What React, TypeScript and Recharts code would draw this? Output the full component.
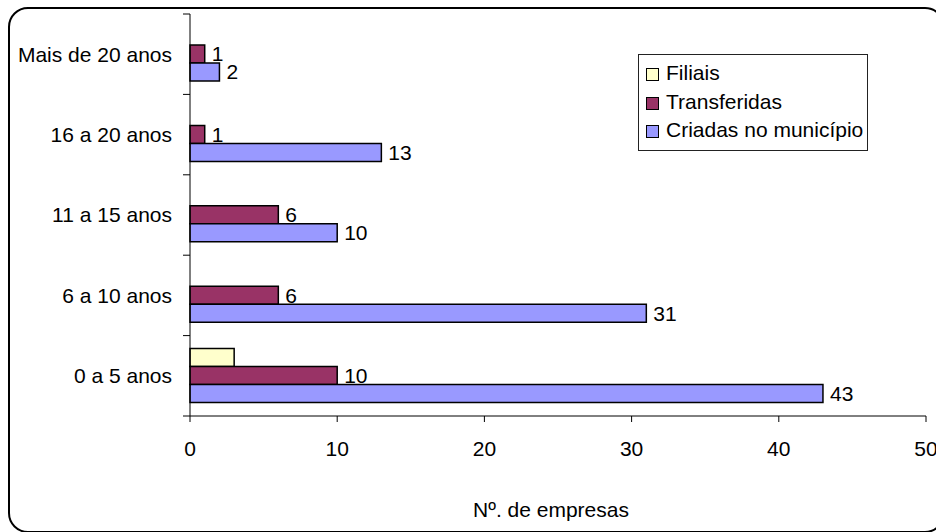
import React from "react";
import { BarChart, Bar, XAxis, YAxis, Legend, LabelList } from "recharts";

const faixas = ["Mais de 20 anos", "16 a 20 anos", "11 a 15 anos", "6 a 10 anos", "0 a 5 anos"];
const series = ["Filiais", "Transferidas", "Criadas no município"];
const filiais = [0, 0, 0, 0, 3];
const transferidas = [1, 1, 6, 6, 10];
const criadas = [2, 13, 10, 31, 43];
const xTicks = [0, 10, 20, 30, 40, 50];

const data = faixas.map((faixa, i) => ({
  faixa,
  filiais: filiais[i],
  transferidas: transferidas[i],
  criadas: criadas[i],
}));

const FONT = "'Liberation Sans', Arial, sans-serif";

const FaixaTick = (props: any) => {
  const { x, y, payload } = props;
  const half = payload.offset || 40.2;
  const axisX = x + 18;
  const last = payload.value === faixas[faixas.length - 1];
  return (
    <g>
      <line x1={axisX - 7} x2={axisX} y1={y - half} y2={y - half} stroke="#000" />
      {last && <line x1={axisX - 7} x2={axisX} y1={y + half} y2={y + half} stroke="#000" />}
      <text x={x} y={y} dy="0.355em" textAnchor="end" fontSize={21} fill="#000" fontFamily={FONT}>
        {payload.value}
      </text>
    </g>
  );
};

const AxisTitle = (props: any) => {
  const vb = props.viewBox || { x: 190, y: 416, width: 736 };
  return (
    <text x={vb.x + vb.width / 2 - 7} y={vb.y + 101} textAnchor="middle" fontSize={21} fill="#000" fontFamily={FONT}>
      Nº. de empresas
    </text>
  );
};

const LegendBox = (props: any) => {
  const items = [...(props.payload || [])].sort(
    (a: any, b: any) => series.indexOf(a.value) - series.indexOf(b.value)
  );
  return (
    <div
      style={{
        width: 230,
        height: 97,
        boxSizing: "border-box",
        border: "1px solid #222",
        background: "#fff",
        paddingTop: 4,
        fontFamily: FONT,
        fontSize: 21,
        color: "#000",
      }}
    >
      {items.map((it: any) => (
        <div key={it.value} style={{ display: "flex", alignItems: "center", height: 28.5, paddingLeft: 7 }}>
          <span
            style={{
              display: "inline-block",
              width: 13,
              height: 13,
              boxSizing: "border-box",
              border: "1.5px solid #000",
              background: it.color,
              marginRight: 7,
              marginTop: 3,
            }}
          />
          <span style={{ whiteSpace: "nowrap" }}>{it.value}</span>
        </div>
      ))}
    </div>
  );
};

export default function App() {
  return (
    <div style={{ position: "absolute", left: 0, top: 0, width: 936, height: 532, overflow: "hidden", background: "#fff" }}>
      <div
        style={{
          position: "absolute",
          left: 8,
          top: 7,
          width: 937,
          height: 526,
          boxSizing: "border-box",
          border: "2px solid #000",
          borderRadius: 20,
        }}
      />
      <div style={{ position: "absolute", left: 0, top: 0 }}>
        <BarChart
          width={936}
          height={532}
          data={data}
          layout="vertical"
          margin={{ top: 14, right: 10, bottom: 76, left: 0 }}
          barCategoryGap={13}
          barGap={0}
        >
          <XAxis
            type="number"
            domain={[0, 50]}
            ticks={xTicks}
            interval={0}
            height={40}
            tickSize={6}
            tickMargin={19}
            axisLine={{ stroke: "#000" }}
            tickLine={{ stroke: "#000" }}
            tick={{ fill: "#000", fontSize: 21, fontFamily: FONT }}
            label={<AxisTitle />}
          />
          <XAxis
            xAxisId="top"
            orientation="top"
            type="number"
            domain={[0, 50]}
            height={0}
            tick={false}
            tickLine={false}
            axisLine={{ stroke: "#000" }}
          />
          <YAxis
            type="category"
            dataKey="faixa"
            width={190}
            tickSize={6}
            tickMargin={12}
            tickLine={false}
            axisLine={{ stroke: "#000" }}
            tick={<FaixaTick />}
          />
          <YAxis
            yAxisId="right"
            orientation="right"
            type="category"
            dataKey="faixa"
            width={0}
            tick={false}
            tickLine={false}
            axisLine={{ stroke: "#000" }}
          />
          <Legend
            layout="vertical"
            align="center"
            verticalAlign="middle"
            wrapperStyle={{ left: 638, top: 54, width: 230, height: 97 }}
            content={<LegendBox />}
          />
          <Bar dataKey="filiais" name={series[0]} fill="#FFFFCC" stroke="#000" strokeWidth={1.5} isAnimationActive={false} />
          <Bar dataKey="transferidas" name={series[1]} fill="#993366" stroke="#000" strokeWidth={1.5} isAnimationActive={false}>
            <LabelList dataKey="transferidas" position="right" offset={7} fill="#000" fontSize={21} fontFamily={FONT} />
          </Bar>
          <Bar dataKey="criadas" name={series[2]} fill="#9999FF" stroke="#000" strokeWidth={1.5} isAnimationActive={false}>
            <LabelList dataKey="criadas" position="right" offset={7} fill="#000" fontSize={21} fontFamily={FONT} />
          </Bar>
        </BarChart>
      </div>
    </div>
  );
}
